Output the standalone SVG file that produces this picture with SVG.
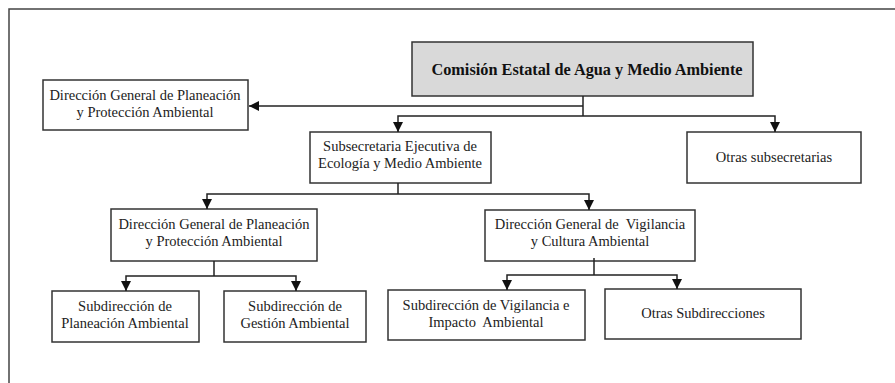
<svg xmlns="http://www.w3.org/2000/svg" width="895" height="383" viewBox="0 0 895 383">
<style>
.box{fill:#fff;stroke:#333;stroke-width:1.5}
.top{fill:#d9d9d9;stroke:#333;stroke-width:1.5}
text{font-family:'Liberation Serif','Times New Roman',serif;font-size:14.5px;fill:#222;text-anchor:middle}
.b{font-weight:bold;font-size:16.3px;fill:#111}
.ln{fill:none;stroke:#222;stroke-width:1.5}
</style>
<defs>
<marker id="ah" markerWidth="10" markerHeight="10" refX="10" refY="5" orient="auto" markerUnits="userSpaceOnUse" viewBox="0 0 10 10">
<path d="M0,0 L10,5 L0,10 Z" fill="#111"/>
</marker>
</defs>
<rect width="895" height="383" fill="#fff"/>
<path d="M9,383 V9 H895" fill="none" stroke="#444" stroke-width="1.5"/>
<g id="n-comision">
<rect class="top" x="412" y="42" width="341" height="54"/>
<text class="b" x="587" y="74.5">Comisión Estatal de Agua y Medio Ambiente</text>
</g>
<g id="n-dgppa-top">
<rect class="box" x="43" y="80" width="205" height="50"/>
<text x="145" y="100">Dirección General de Planeación</text>
<text x="145" y="117">y Protección Ambiental</text>
</g>
<g id="n-subsec">
<rect class="box" x="310" y="132" width="181" height="51"/>
<text x="400" y="151">Subsecretaria Ejecutiva de</text>
<text x="400" y="168">Ecología y Medio Ambiente</text>
</g>
<g id="n-otras-subsec">
<rect class="box" x="687" y="132" width="174" height="51"/>
<text x="774" y="162">Otras subsecretarias</text>
</g>
<g id="n-dgppa">
<rect class="box" x="111" y="209" width="206" height="52"/>
<text x="214" y="229">Dirección General de Planeación</text>
<text x="214" y="246">y Protección Ambiental</text>
</g>
<g id="n-dgvca">
<rect class="box" x="485" y="210" width="210" height="51"/>
<text x="590" y="229" xml:space="preserve">Dirección General de  Vigilancia</text>
<text x="590" y="246">y Cultura Ambiental</text>
</g>
<g id="n-sub-plan">
<rect class="box" x="52" y="291" width="147" height="51"/>
<text x="125" y="311">Subdirección de</text>
<text x="125" y="328">Planeación Ambiental</text>
</g>
<g id="n-sub-gest">
<rect class="box" x="224" y="291" width="142" height="51"/>
<text x="295" y="311">Subdirección de</text>
<text x="295" y="328">Gestión Ambiental</text>
</g>
<g id="n-sub-vig">
<rect class="box" x="388" y="290" width="197" height="50"/>
<text x="486" y="310">Subdirección de Vigilancia e</text>
<text x="486" y="327" xml:space="preserve">Impacto  Ambiental</text>
</g>
<g id="n-otras-sub">
<rect class="box" x="605" y="289" width="196" height="50"/>
<text x="703" y="318">Otras Subdirecciones</text>
</g>
<g id="connectors">
<path class="ln" d="M583,96 V116"/>
<path class="ln" d="M583,106 H249" marker-end="url(#ah)"/>
<path class="ln" d="M583,116 H398 V132" marker-end="url(#ah)"/>
<path class="ln" d="M583,116 H775 V132" marker-end="url(#ah)"/>
<path class="ln" d="M398,183 V194"/>
<path class="ln" d="M398,194 H207 V209" marker-end="url(#ah)"/>
<path class="ln" d="M398,194 H589 V210" marker-end="url(#ah)"/>
<path class="ln" d="M214,261 V276"/>
<path class="ln" d="M214,276 H126 V291" marker-end="url(#ah)"/>
<path class="ln" d="M214,276 H296 V291" marker-end="url(#ah)"/>
<path class="ln" d="M594,258 V275"/>
<path class="ln" d="M594,275 H507 V290" marker-end="url(#ah)"/>
<path class="ln" d="M594,275 H677 V289" marker-end="url(#ah)"/>
</g>
</svg>
